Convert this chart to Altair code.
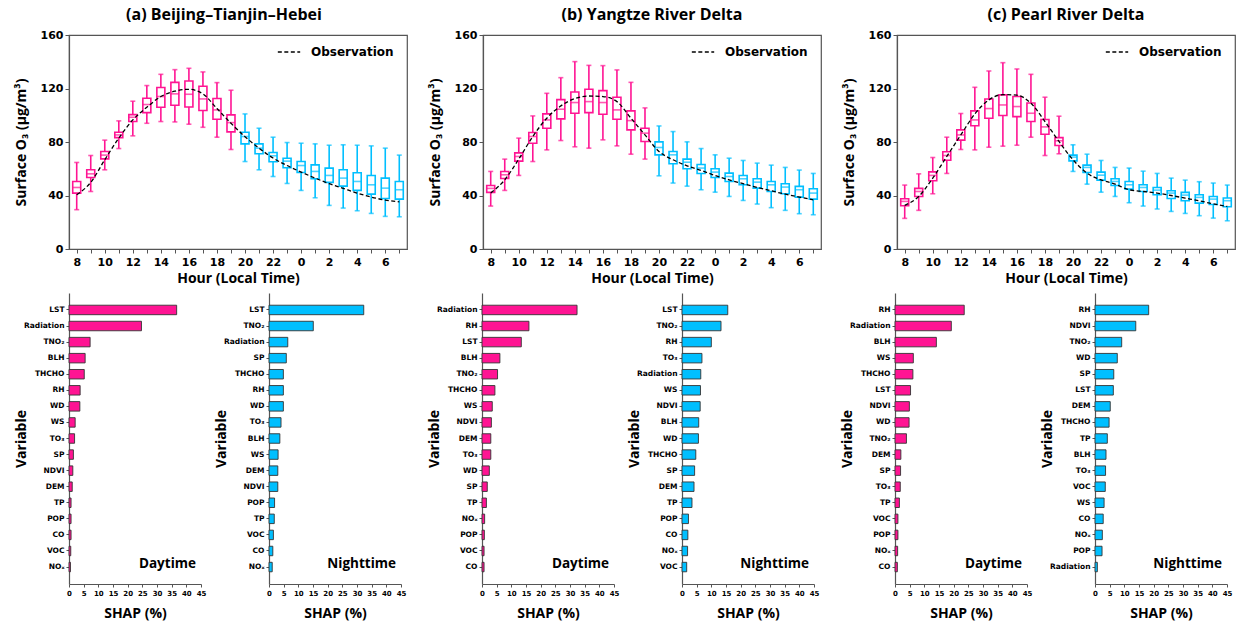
import altair as alt
import pandas as pd

PINK = "#FF1493"
BLUE = "#00BFFF"
FRAME = "#555555"
TFONT = "Open Sans"
LFONT = "DejaVu Sans"

hours = [8, 9, 10, 11, 12, 13, 14, 15, 16, 17, 18, 19, 20, 21, 22, 23, 0, 1, 2, 3, 4, 5, 6, 7]
hour_labels = [str(h) for h in hours]
periods = ["Day"] * 12 + ["Night"] * 12

# (a) Beijing-Tianjin-Hebei
a_low = [29.4, 43, 59.2, 75.1, 84.6, 94, 95.3, 95, 93.3, 91, 83.6, 74.4, 65.4, 59.2, 54.2, 49, 43.8, 38.3, 32.6, 30.6, 28.6, 26.6, 24.4, 24.1]
a_q1 = [41.8, 53.5, 67.4, 83.3, 95.3, 102, 106, 107.5, 106.2, 103.5, 97, 87.6, 78.6, 71.2, 65.2, 60.7, 57.2, 52.5, 49.8, 47, 43.8, 41, 37.8, 37.3]
a_med = [46, 56.2, 70.2, 85.3, 98.5, 108, 114, 116, 115.7, 112.2, 104, 94.5, 84.1, 75.4, 69.7, 65.7, 62.4, 58, 55, 53, 50.5, 48, 45.5, 44.3]
a_q3 = [50.5, 59.2, 72.9, 87.3, 100.5, 112.7, 120.7, 124.6, 125.6, 121.7, 112.5, 100.3, 87.3, 78.6, 72.2, 67.9, 65.4, 62.9, 60.5, 59.2, 57, 55, 53, 50.5]
a_high = [64.7, 69.9, 81.4, 95.8, 110.5, 122.2, 130.6, 134.1, 135.1, 132.4, 124.4, 118.7, 101, 90.3, 83.6, 79.6, 79.1, 78.6, 77.6, 77.9, 77.6, 77.1, 75.4, 70.2]
a_obs = [40.6, 49.8, 66.7, 82.9, 96.5, 106, 114, 118, 119.4, 116, 105, 94, 84, 75.4, 68, 62.4, 57.5, 53, 48.8, 45.3, 41.8, 38.8, 36.6, 35.3]

# (b) Yangtze River Delta
b_low = [32.1, 43.8, 55, 65.4, 74.1, 81.1, 76.4, 75.4, 81.6, 77.1, 70.9, 67.2, 54.7, 49.3, 47, 44.3, 42.5, 39.3, 36.3, 33.6, 30.9, 28.9, 26.4, 25.6]
b_q1 = [42.3, 52.7, 65.7, 79.1, 90.3, 97.3, 101.5, 102, 100.8, 97, 89.1, 80.4, 70.4, 63.7, 60, 56.5, 53.5, 50.5, 48, 45.5, 43, 41.3, 38.8, 37.3]
b_med = [45.3, 55.5, 69.2, 84.1, 96.5, 104.5, 109.5, 110.2, 109.5, 104, 96, 86.6, 75.9, 70.4, 64.9, 60.5, 57.5, 54.2, 52.5, 50, 48, 46.3, 44.3, 41.8]
b_q3 = [47.5, 58, 71.9, 87.1, 101, 111.7, 117.4, 119.4, 118.4, 113.5, 103.3, 90.3, 80.1, 72.9, 67.2, 63.2, 60, 56.7, 55, 52.5, 50.5, 48.8, 46.8, 45]
b_high = [58, 67.2, 82.9, 99.5, 116.4, 128.1, 140.1, 137.3, 137.1, 133.9, 124.6, 105.5, 92, 87.8, 80.1, 75.1, 70.4, 67.9, 66.2, 64.2, 62.7, 61, 59, 56.5]
b_obs = [41.8, 51.7, 67.2, 84.1, 97.8, 107, 112.5, 114.4, 114, 110.2, 97.8, 85.3, 72.9, 66.7, 62.2, 58.7, 55, 51.7, 48.8, 46, 43.5, 41, 38.8, 36.8]

# (c) Pearl River Delta
c_low = [22.9, 28.9, 41.3, 56.5, 74.4, 74.1, 76.1, 76.9, 77.6, 83.6, 69.9, 71.2, 58, 48.5, 42.5, 39.3, 34.6, 32.1, 29.9, 28.1, 26.6, 24.9, 23.1, 21.1]
c_q1 = [32.3, 39.3, 51, 66.4, 81.4, 92.1, 97.8, 99.8, 99, 95.3, 85.8, 77.4, 65.9, 57.2, 51.5, 47.5, 44.8, 43, 40.6, 37.8, 36.1, 34.3, 33.3, 31.6]
c_med = [35.6, 43, 55, 69.9, 85.3, 96.5, 105, 107.7, 106.5, 101.5, 91.3, 80.9, 68.7, 61, 55.2, 50.5, 48, 46, 44, 41.8, 40.3, 38.6, 37.3, 36.1]
c_q3 = [37.6, 45.3, 57.7, 72.7, 89.1, 103.3, 112.2, 115.2, 114, 109.2, 96.8, 83.3, 70.2, 62.7, 57.5, 52.5, 50.5, 48, 46, 43.5, 42.3, 40.6, 39.3, 38.1]
c_high = [47.8, 56.2, 68.4, 83.6, 101.3, 120.9, 133.1, 139.3, 134.6, 130.6, 113.5, 99.3, 77.9, 70.9, 66.2, 61, 60.5, 58.2, 56.5, 53, 51.5, 50.3, 49.3, 47.8]
c_obs = [32.6, 39.3, 53, 69.2, 85.3, 101, 111.5, 115.4, 115, 109, 95.3, 80.4, 66.7, 56.7, 51.7, 48.5, 44.3, 43, 41.8, 40, 38, 36, 33.8, 31.8]

# SHAP bars
a_day_vars = ["LST", "Radiation", "TNO₂", "BLH", "THCHO", "RH", "WD", "WS", "TO₃", "SP", "NDVI", "DEM", "TP", "POP", "CO", "VOC", "NOₓ"]
a_day_vals = [36.7, 24.7, 7.2, 5.5, 5.2, 3.8, 3.7, 2.1, 1.9, 1.5, 1.3, 1.1, 0.7, 0.7, 0.7, 0.6, 0.5]
a_night_vars = ["LST", "TNO₂", "Radiation", "SP", "THCHO", "RH", "WD", "TO₃", "BLH", "WS", "DEM", "NDVI", "POP", "TP", "VOC", "CO", "NOₓ"]
a_night_vals = [32.3, 15.1, 6.4, 5.9, 4.9, 4.9, 4.9, 4.1, 3.7, 3.1, 3.0, 3.0, 1.9, 1.8, 1.5, 1.3, 1.1]
b_day_vars = ["Radiation", "RH", "LST", "BLH", "TNO₂", "THCHO", "WS", "NDVI", "DEM", "TO₃", "WD", "SP", "TP", "NOₓ", "POP", "VOC", "CO"]
b_day_vals = [32.4, 16, 13.4, 6.1, 5.3, 4.4, 3.5, 3.2, 3.0, 3.0, 2.5, 1.8, 1.5, 0.9, 0.8, 0.7, 0.7]
b_night_vars = ["LST", "TNO₂", "RH", "TO₃", "Radiation", "WS", "NDVI", "BLH", "WD", "THCHO", "SP", "DEM", "TP", "POP", "CO", "NOₓ", "VOC"]
b_night_vals = [15.6, 13.3, 10, 6.8, 6.4, 6.3, 6.2, 5.7, 5.6, 4.7, 4.3, 4.1, 3.4, 2.2, 2.0, 1.9, 1.6]
c_day_vars = ["RH", "Radiation", "BLH", "WS", "THCHO", "LST", "NDVI", "WD", "TNO₂", "DEM", "SP", "TO₃", "TP", "VOC", "POP", "NOₓ", "CO"]
c_day_vals = [23.6, 19.2, 14.1, 6.25, 6.1, 5.3, 4.9, 4.8, 3.9, 2.0, 1.9, 1.8, 1.5, 1.0, 1.0, 0.9, 0.8]
c_night_vars = ["RH", "NDVI", "TNO₂", "WD", "SP", "LST", "DEM", "THCHO", "TP", "BLH", "TO₃", "VOC", "WS", "CO", "NOₓ", "POP", "Radiation"]
c_night_vals = [18.3, 13.9, 9.1, 7.6, 6.4, 6.25, 5.2, 4.8, 4.2, 3.75, 3.6, 3.5, 3.1, 2.8, 2.5, 2.4, 0.8]

y_ticks = [0, 40, 80, 120, 160]
shap_ticks = [0, 5, 10, 15, 20, 25, 30, 35, 40, 45]

TOP_W, TOP_H = 338, 214
BAR_W, BAR_H = 132, 291


def top_panel(title, low, q1, med, q3, high, obs, dx=0):
    df = pd.DataFrame({"hour": hour_labels, "period": periods, "low": low, "q1": q1,
                       "med": med, "q3": q3, "high": high, "obs": obs,
                       "series": ["Observation"] * 24})
    x = alt.X("hour:N", sort=hour_labels,
              scale=alt.Scale(type="point", padding=0.55),
              axis=alt.Axis(title="Hour (Local Time)", labelAngle=0, labelFontSize=11, grid=False,
                            labelExpr="toNumber(datum.value) % 2 == 0 ? datum.value : ''",
                            tickSize=4, labelPadding=3, titlePadding=4))
    yax = alt.Axis(title="Surface O₃ (μg/m³)", values=y_ticks, labelFontSize=11, tickSize=4,
                   grid=False, labelPadding=2, titleX=-48, titleBaseline="middle")
    ysc = alt.Scale(domain=[0, 160], nice=False)
    col_stroke = alt.Stroke("period:N", scale=alt.Scale(domain=["Day", "Night"], range=[PINK, BLUE]), legend=None)
    col_fill = alt.Color("period:N", scale=alt.Scale(domain=["Day", "Night"], range=[PINK, BLUE]), legend=None)
    base = alt.Chart(df)
    whisk = base.mark_rule(strokeWidth=1.6).encode(
        x=x, y=alt.Y("low:Q", scale=ysc, axis=yax), y2="high:Q", stroke=col_stroke)
    box = base.mark_bar(width=8, fill="white", strokeWidth=1.6).encode(
        x=x, y=alt.Y("q1:Q", scale=ysc, axis=yax), y2="q3:Q", stroke=col_stroke)
    medt = base.mark_tick(size=8, thickness=1.6).encode(
        x=x, y=alt.Y("med:Q", scale=ysc, axis=yax), color=col_fill)
    cap_lo = base.mark_tick(size=5, thickness=1.6).encode(
        x=x, y=alt.Y("low:Q", scale=ysc, axis=yax), color=col_fill)
    cap_hi = base.mark_tick(size=5, thickness=1.6).encode(
        x=x, y=alt.Y("high:Q", scale=ysc, axis=yax), color=col_fill)
    line = base.mark_line(color="black", strokeWidth=1.3, interpolate="monotone").encode(
        x=x, y=alt.Y("obs:Q", scale=ysc, axis=yax),
        strokeDash=alt.StrokeDash("series:N",
                                  scale=alt.Scale(domain=["Observation"], range=[[4, 2.5]]),
                                  legend=alt.Legend(orient="none", legendX=208, legendY=5,
                                                    title=None, labelFont=LFONT,
                                                    labelFontWeight="bold", labelFontSize=12,
                                                    labelColor="black", symbolType="stroke",
                                                    symbolSize=500, symbolStrokeWidth=1.4,
                                                    symbolStrokeColor="black", labelOffset=10,
                                                    padding=0)))
    return alt.layer(whisk, box, medt, cap_lo, cap_hi, line).properties(
        width=TOP_W, height=TOP_H,
        title=alt.TitleParams(title, font=TFONT, fontSize=16, fontWeight="bold", color="black",
                              anchor="middle", frame="group", offset=6, dx=dx),
        view=alt.ViewBackground(stroke=FRAME, strokeWidth=1.2),
    )


def bar_panel(vars_, vals, color, label):
    df = pd.DataFrame({"var": vars_, "val": vals})
    bars = alt.Chart(df).mark_bar(fill=color, stroke="#333333", strokeWidth=0.9).encode(
        x=alt.X("val:Q", scale=alt.Scale(domain=[0, 45], nice=False),
                axis=alt.Axis(title="SHAP (%)", values=shap_ticks, labelFontSize=7, tickSize=3,
                              grid=False, labelPadding=2, titlePadding=10, labelFlush=False)),
        y=alt.Y("var:N", sort=None, scale=alt.Scale(paddingInner=0.41, paddingOuter=0.76),
                axis=alt.Axis(title="Variable", labelFontSize=7.5, tickSize=3, labelPadding=2,
                              grid=False, titleX=-48, titleBaseline="middle", labelLimit=200)))
    txt = alt.Chart(pd.DataFrame({"t": [label]})).mark_text(
        align="right", baseline="middle", font=TFONT, fontSize=13.5, fontWeight="bold", color="black"
    ).encode(x=alt.value(BAR_W - 5), y=alt.value(BAR_H - 20), text="t:N")
    return alt.layer(bars, txt).properties(width=BAR_W, height=BAR_H)


pa = top_panel("(a) Beijing–Tianjin–Hebei", a_low, a_q1, a_med, a_q3, a_high, a_obs, dx=-14)
pb = top_panel("(b) Yangtze River Delta", b_low, b_q1, b_med, b_q3, b_high, b_obs)
pc = top_panel("(c) Pearl River Delta", c_low, c_q1, c_med, c_q3, c_high, c_obs)

top_row = alt.hconcat(pa, pb, pc, spacing=76, bounds="flush").resolve_scale(
    x="independent", y="independent", color="independent", stroke="independent",
    strokeDash="independent").resolve_legend(strokeDash="independent")


def group(d_vars, d_vals, n_vars, n_vals):
    return alt.hconcat(bar_panel(d_vars, d_vals, PINK, "Daytime"),
                       bar_panel(n_vars, n_vals, BLUE, "Nighttime"),
                       spacing=68, bounds="flush").resolve_scale(x="independent", y="independent")


bottom_row = alt.hconcat(
    group(a_day_vars, a_day_vals, a_night_vars, a_night_vals),
    group(b_day_vars, b_day_vals, b_night_vars, b_night_vals),
    group(c_day_vars, c_day_vals, c_night_vars, c_night_vals),
    spacing=21,
).resolve_scale(x="independent", y="independent")

chart = alt.vconcat(top_row, bottom_row, spacing=7).resolve_scale(
    x="independent", y="independent"
).properties(
    padding={"left": 13, "top": 6, "right": 2, "bottom": 2}
).configure_view(strokeWidth=0).configure_axis(
    domainColor=FRAME, tickColor=FRAME, labelColor="black", titleColor="black", grid=False,
    labelFont=LFONT, labelFontWeight="bold", titleFont=TFONT, titleFontWeight="bold",
    titleFontSize=14, domainWidth=1.2,
)

chart.save("out.html", embed_options={"renderer": "svg", "actions": False})
